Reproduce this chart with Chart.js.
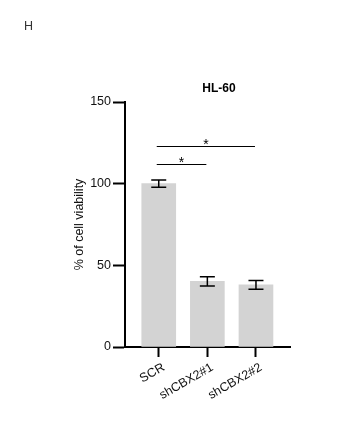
<!DOCTYPE html>
<html>
<head>
<meta charset="utf-8">
<script src="https://cdn.jsdelivr.net/npm/chart.js@4.4.1/dist/chart.umd.min.js"></script>
<style>
html,body{margin:0;padding:0;background:#fff;}
canvas{display:block;}
</style>
</head>
<body>
<canvas id="c" width="355" height="445"></canvas>
<script>
// ---- data ----
const categories = ['SCR', 'shCBX2#1', 'shCBX2#2'];
const means = [100, 40.2, 38];
const errors = [2.2, 2.8, 2.7];
const yTicks = [0, 50, 100, 150];
const sigPairs = [[0, 2], [0, 1]];
const sigLevels = [123, 112];
const sigLabels = ['*', '*'];
const chartTitle = 'HL-60';
const panelLabel = 'H';
const yTitle = '% of cell viability';

const FONT = "'Liberation Sans', Arial, sans-serif";

const overlay = {
  id: 'overlay',
  afterDatasetsDraw(chart) {
    const ctx = chart.ctx;
    const xs = chart.scales.x, ys = chart.scales.y;
    ctx.save();
    // error bars
    ctx.strokeStyle = '#000';
    ctx.lineWidth = 1.5;
    means.forEach((m, i) => {
      const x = xs.getPixelForValue(i);
      const yt = ys.getPixelForValue(m + errors[i]);
      const yb = ys.getPixelForValue(m - errors[i]);
      ctx.beginPath();
      ctx.moveTo(x, yt); ctx.lineTo(x, yb);
      ctx.moveTo(x - 7.5, yt); ctx.lineTo(x + 7.5, yt);
      ctx.moveTo(x - 7.5, yb); ctx.lineTo(x + 7.5, yb);
      ctx.stroke();
    });
    // significance
    ctx.lineWidth = 1;
    ctx.fillStyle = '#000';
    ctx.font = '14px ' + FONT;
    ctx.textAlign = 'center';
    ctx.textBaseline = 'alphabetic';
    sigPairs.forEach((p, k) => {
      const x1 = xs.getPixelForValue(p[0]) - 2;
      const x2 = xs.getPixelForValue(p[1]) - 1;
      const y = Math.round(ys.getPixelForValue(sigLevels[k])) + 0.5;
      ctx.beginPath();
      ctx.moveTo(x1, y); ctx.lineTo(x2, y);
      ctx.stroke();
      ctx.fillText(sigLabels[k], (x1 + x2) / 2, y + 2);
    });
    ctx.restore();
  },
  afterDraw(chart) {
    const ctx = chart.ctx;
    const xs = chart.scales.x, ys = chart.scales.y;
    ctx.save();
    ctx.fillStyle = '#000';
    ctx.font = 'bold 12px ' + FONT;
    ctx.textAlign = 'center';
    ctx.textBaseline = 'middle';
    ctx.fillText(chartTitle, xs.getPixelForValue(1.24), ys.getPixelForValue(150) - 13);
    ctx.fillStyle = '#333';
    ctx.font = '12.5px ' + FONT;
    ctx.textAlign = 'left';
    ctx.fillText(panelLabel, 24, 27);
    ctx.restore();
  }
};

new Chart(document.getElementById('c'), {
  type: 'bar',
  data: {
    datasets: [{
      data: means.map((v, i) => ({ x: i, y: v })),
      backgroundColor: '#d3d3d3',
      borderWidth: 0,
      barThickness: 34
    }]
  },
  options: {
    responsive: false,
    animation: false,
    devicePixelRatio: 1,
    layout: { padding: { top: 102, right: 65, bottom: 0, left: 0 } },
    plugins: { legend: { display: false }, tooltip: { enabled: false }, title: { display: false } },
    scales: {
      x: {
        type: 'linear',
        min: -0.694,
        max: 2.70,
        offset: false,
        afterBuildTicks(scale) { scale.ticks = categories.map((c, i) => ({ value: i })); },
        afterFit(scale) { scale.height = 98; },
        ticks: {
          callback: (v) => categories[v],
          minRotation: 30, maxRotation: 30,
          autoSkip: false,
          font: { family: FONT, size: 12.5 },
          color: '#111',
          padding: 3,
          labelOffset: 5
        },
        grid: { display: true, offset: false, drawOnChartArea: false, drawTicks: true, tickLength: 10, tickWidth: 2, tickColor: '#000' },
        border: { display: true, color: '#000', width: 2 }
      },
      y: {
        min: 0, max: 150,
        afterBuildTicks(scale) { scale.ticks = yTicks.map(v => ({ value: v })); },
        afterFit(scale) { scale.width = 125; },
        ticks: {
          font: { family: FONT, size: 12.5 },
          color: '#111',
          padding: 2
        },
        title: {
          display: true,
          text: yTitle,
          font: { family: FONT, size: 12.5 },
          color: '#111',
          padding: { top: 72, bottom: 0 }
        },
        grid: { display: true, offset: false, drawOnChartArea: false, drawTicks: true, tickLength: 12, tickWidth: 2, tickColor: '#000' },
        border: { display: true, color: '#000', width: 2 }
      }
    }
  },
  plugins: [overlay]
});
</script>
</body>
</html>
